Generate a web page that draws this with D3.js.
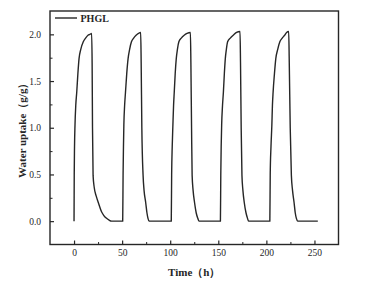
<!DOCTYPE html>
<html>
<head>
<meta charset="utf-8">
<script src="https://cdn.jsdelivr.net/npm/d3@7/dist/d3.min.js"></script>
<style>
  html, body { margin: 0; padding: 0; background: #fff; }
  svg { display: block; }
</style>
</head>
<body>
<svg id="chart" width="371" height="285"></svg>
<script>
// ---- Data ----
const seriesName = "PHGL";
const timeH = [
  0, 0.2, 0.5, 1.0, 1.8, 2.8, 4.0, 5.2, 7.0, 9.6, 12, 14.5, 16.5, 18.3, 18.8, 19.2, 19.8, 21, 23, 25.2, 28.6, 31, 33.8, 36.5, 39, 45, 50.5,
  50.6, 51.0, 51.4, 51.8, 52.6, 53.5, 54.8, 56.2, 57.8, 59.7, 62, 64.5, 67, 69.3, 69.8, 70.5, 71.8, 72.8, 74.5, 75.8, 76.9, 78, 90, 100.6,
  101.1, 101.5, 102.1, 102.8, 103.5, 104.2, 105.2, 106.3, 107.5, 109, 111.5, 114.5, 117.5, 121, 121.5, 122.2, 122.8, 123.8, 125.3, 127, 128.7, 130, 141, 151.9,
  152.2, 152.6, 153.0, 153.5, 154.4, 155.3, 156.3, 157.3, 158.4, 159.7, 162.5, 165.5, 169, 172.6, 173.1, 173.8, 174.6, 175.6, 177, 178.8, 180.4, 181.5, 192, 203.4,
  203.6, 204.0, 204.8, 205.7, 206.3, 207, 208.4, 209.8, 211.8, 214, 216.5, 219, 221, 223.2, 223.8, 224.8, 226, 227.2, 228.8, 230, 231.2, 232.5, 243, 253.5
];
const uptake = [
  0, 0.5, 0.8, 1.03, 1.24, 1.38, 1.58, 1.74, 1.84, 1.92, 1.96, 1.99, 2.0, 2.01, 1.7, 1.0, 0.49, 0.36, 0.27, 0.2, 0.1, 0.06, 0.03, 0.01, 0, 0, 0,
  0, 0.5, 0.8, 1.03, 1.24, 1.38, 1.58, 1.74, 1.84, 1.92, 1.96, 1.99, 2.01, 2.02, 1.7, 1.0, 0.49, 0.33, 0.2, 0.09, 0.03, 0, 0, 0,
  0, 0.5, 0.8, 1.03, 1.24, 1.38, 1.58, 1.74, 1.84, 1.92, 1.96, 1.99, 2.01, 2.02, 1.7, 1.0, 0.49, 0.33, 0.2, 0.09, 0.03, 0, 0, 0,
  0, 0.5, 0.8, 1.03, 1.24, 1.38, 1.58, 1.74, 1.84, 1.92, 1.96, 1.99, 2.02, 2.03, 1.7, 1.0, 0.49, 0.33, 0.2, 0.09, 0.03, 0, 0, 0,
  0, 0.5, 0.8, 1.03, 1.24, 1.38, 1.58, 1.74, 1.84, 1.92, 1.96, 1.99, 2.02, 2.03, 1.7, 1.0, 0.49, 0.33, 0.2, 0.09, 0.03, 0, 0, 0
];
const xTicks = [0, 50, 100, 150, 200, 250];
const xMinorTicks = [25, 75, 125, 175, 225];
const yTicks = [0, 0.5, 1.0, 1.5, 2.0];
const yMinorTicks = [0.25, 0.75, 1.25, 1.75];
const xLabel = "Time（h）";
const yLabel = "Water uptake（g/g）";

// ---- Layout ----
const plot = { left: 50, right: 338.5, top: 11, bottom: 244.5 };
const ink = "#262626";
const serif = "'Liberation Serif', 'Times New Roman', serif";

const svg = d3.select("#chart");
const x = d3.scaleLinear().domain([-25, 275]).range([plot.left, plot.right]);
const y = d3.scaleLinear().domain([-0.25, 2.25]).range([plot.bottom, plot.top]);

// Minor ticks
svg.append("g")
  .attr("transform", `translate(0,${plot.bottom})`)
  .call(d3.axisBottom(x).tickValues(xMinorTicks).tickSizeInner(-2.5).tickSizeOuter(0).tickFormat(""))
  .call(g => g.select(".domain").remove())
  .call(g => g.selectAll("line").attr("stroke", ink));
svg.append("g")
  .attr("transform", `translate(${plot.left},0)`)
  .call(d3.axisLeft(y).tickValues(yMinorTicks).tickSizeInner(-2.5).tickSizeOuter(0).tickFormat(""))
  .call(g => g.select(".domain").remove())
  .call(g => g.selectAll("line").attr("stroke", ink));

// Major ticks
svg.append("g")
  .attr("transform", `translate(0,${plot.bottom})`)
  .call(d3.axisBottom(x).tickValues(xTicks).tickSizeInner(-4).tickSizeOuter(0).tickPadding(5).tickFormat(d3.format("d")))
  .call(g => g.select(".domain").remove())
  .call(g => g.selectAll("line").attr("stroke", ink).attr("stroke-width", 1.2))
  .call(g => g.selectAll("text").attr("fill", ink).style("font-family", serif).style("font-size", "9.5px"));
svg.append("g")
  .attr("transform", `translate(${plot.left},0)`)
  .call(d3.axisLeft(y).tickValues(yTicks).tickSizeInner(-4).tickSizeOuter(0).tickPadding(9).tickFormat(d3.format(".1f")))
  .call(g => g.select(".domain").remove())
  .call(g => g.selectAll("line").attr("stroke", ink).attr("stroke-width", 1.2))
  .call(g => g.selectAll("text").attr("fill", ink).style("font-family", serif).style("font-size", "9.5px"));

// Frame
svg.append("rect")
  .attr("x", plot.left).attr("y", plot.top)
  .attr("width", plot.right - plot.left).attr("height", plot.bottom - plot.top)
  .attr("fill", "none").attr("stroke", ink).attr("stroke-width", 1.4);

// Line
const data = timeH.map((t, i) => ({ t, v: uptake[i] }));
const line = d3.line().x(d => x(d.t)).y(d => y(d.v)).curve(d3.curveMonotoneX);
svg.append("path")
  .datum(data)
  .attr("d", line)
  .attr("fill", "none")
  .attr("stroke", ink)
  .attr("stroke-width", 1.4)
  .attr("stroke-linejoin", "round");

// Legend
svg.append("line")
  .attr("x1", 55).attr("x2", 77).attr("y1", 18).attr("y2", 18)
  .attr("stroke", ink).attr("stroke-width", 1.4);
svg.append("text")
  .attr("x", 80.5).attr("y", 21.5)
  .attr("fill", ink)
  .style("font-family", serif).style("font-size", "10px").style("font-weight", "bold")
  .text(seriesName);

// Axis titles
svg.append("text")
  .attr("x", (plot.left + plot.right) / 2).attr("y", 276)
  .attr("text-anchor", "middle").attr("fill", ink)
  .style("font-family", serif).style("font-size", "11px").style("font-weight", "bold")
  .text(xLabel);
svg.append("text")
  .attr("transform", `translate(26,${(plot.top + plot.bottom) / 2}) rotate(-90)`)
  .attr("text-anchor", "middle").attr("fill", ink)
  .style("font-family", serif).style("font-size", "11px").style("font-weight", "bold")
  .text(yLabel);
</script>
</body>
</html>
